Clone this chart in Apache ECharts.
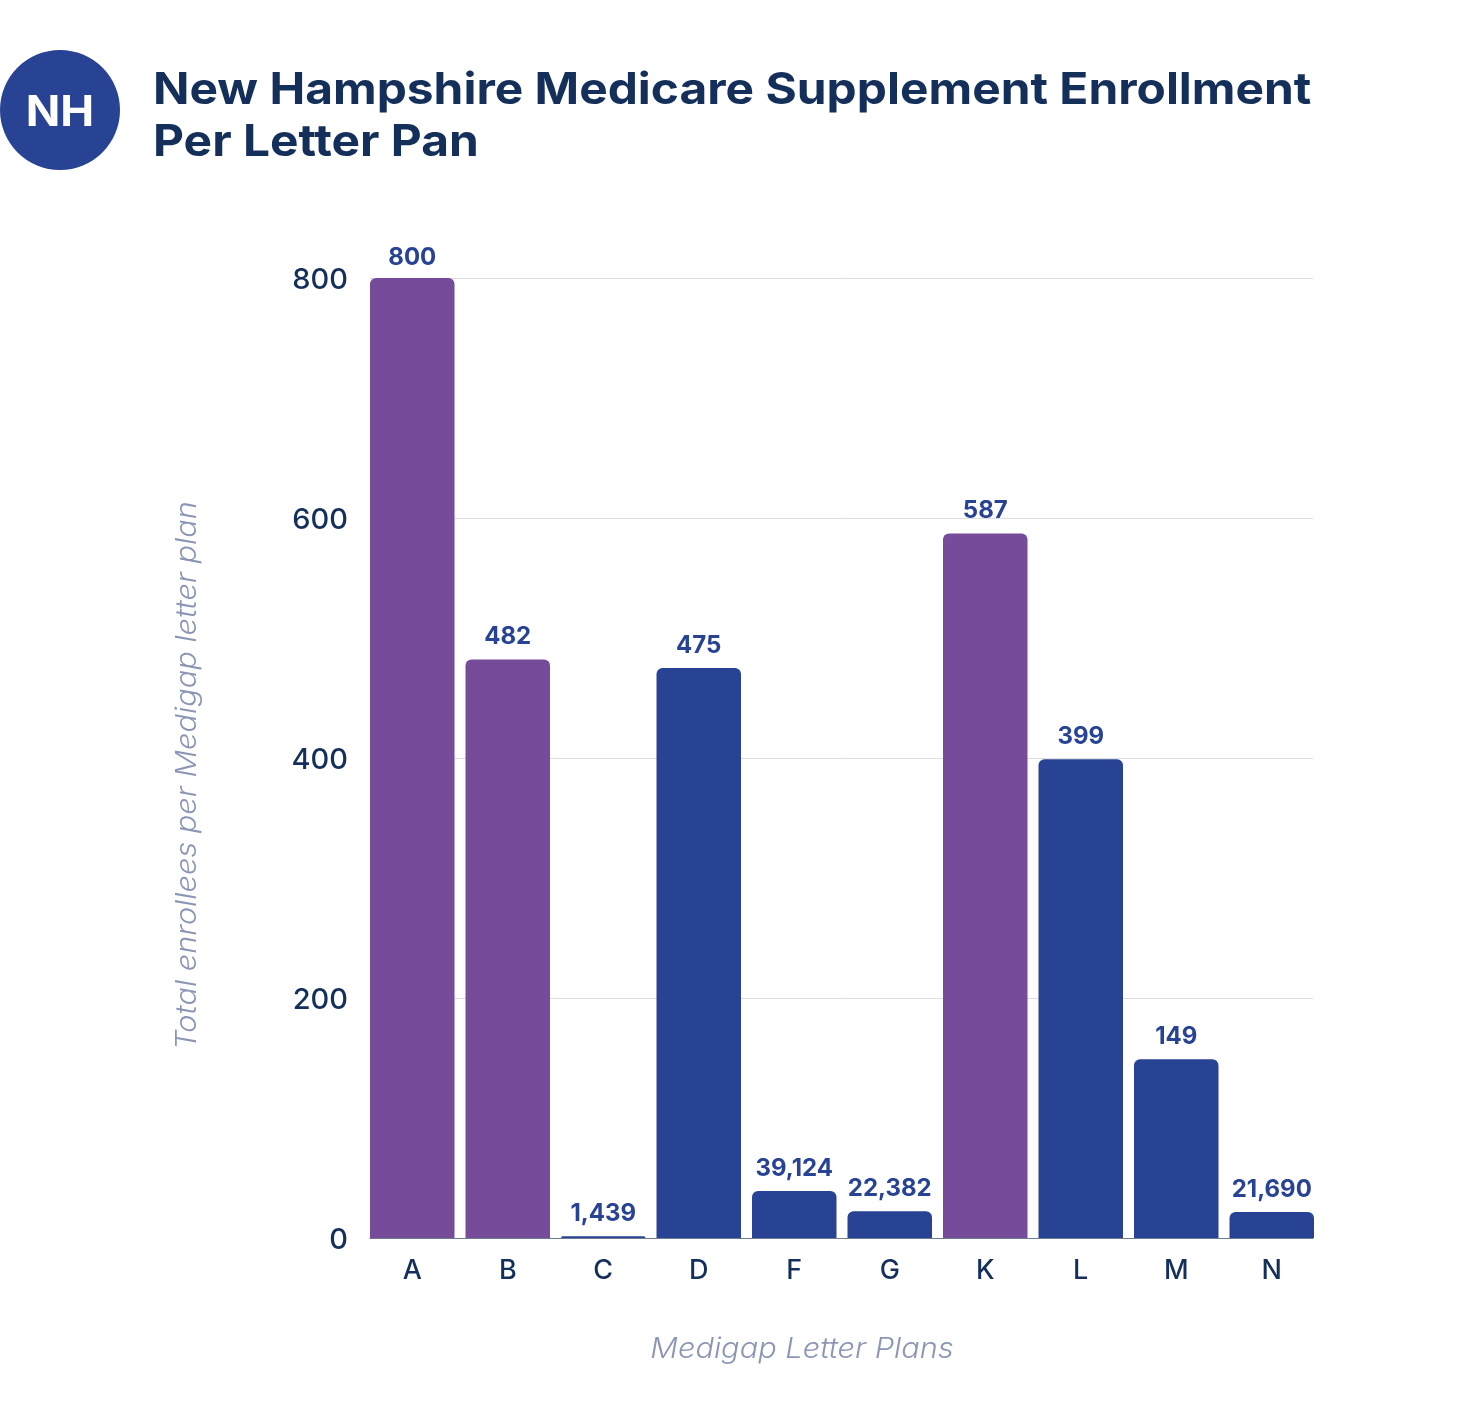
<!DOCTYPE html>
<html>
<head>
<meta charset="utf-8">
<title>New Hampshire Medicare Supplement Enrollment</title>
<script src="https://cdn.jsdelivr.net/npm/echarts@6/dist/echarts.min.js"></script>
<style>
html, body { margin: 0; padding: 0; background: #fff; }
#container { width: 1472px; height: 1416px; }
</style>
</head>
<body>
<div id="container"></div>
<script>
var categories = ['A', 'B', 'C', 'D', 'F', 'G', 'K', 'L', 'M', 'N'];
// bar heights as drawn (the small plans are drawn in thousands)
var barValues = [800, 482, 1.439, 475, 39.124, 22.382, 587, 399, 149, 21.69];
// labels as printed in the picture
var barLabels = ['800', '482', '1,439', '475', '39,124', '22,382', '587', '399', '149', '21,690'];
var purplePlans = ['A', 'B', 'K'];
var yTicks = [0, 200, 400, 600, 800];

var fontName = 'Inter';
var navy = '#14305a';
var blue = '#284393';
var purple = '#764b99';
var muted = '#8a96b4';

var barData = [];
for (var i = 0; i < categories.length; i++) {
    barData.push({
        value: barValues[i],
        itemStyle: { color: purplePlans.indexOf(categories[i]) >= 0 ? purple : blue },
        // the top bar's label sits closer to the bar than the others
        label: { distance: i == 0 ? 8.5 : 10.5 }
    });
}

var myChart = echarts.init(document.getElementById('container'));

var option = {
    animation: false,
    backgroundColor: '#fff',
    // grid 0 holds the rules and y labels, grid 1 is a bit wider so bars sit flush with the rules
    grid: [
        { left: 370, width: 943, top: 278, height: 960 },
        { left: 364.5, width: 955, top: 278, height: 960 }
    ],
    xAxis: [
        {
            type: 'value', gridIndex: 0, min: 0, max: 1,
            axisLine: { show: true, onZero: false, lineStyle: { color: '#6f7b8f', width: 1 } },
            axisTick: { show: false },
            axisLabel: { show: false },
            splitLine: { show: false }
        },
        {
            type: 'category', gridIndex: 1, data: categories,
            axisLine: { show: false },
            axisTick: { show: false },
            axisLabel: { color: navy, fontFamily: fontName, fontSize: 27, fontWeight: 500, margin: 19 }
        }
    ],
    yAxis: [
        {
            type: 'value', gridIndex: 0, min: yTicks[0], max: yTicks[yTicks.length - 1], interval: 200,
            axisLine: { show: false },
            axisTick: { show: false },
            // top align with a short line box pushes the digits just below the rule, as in the picture
            axisLabel: { color: navy, fontFamily: fontName, fontSize: 29, fontWeight: 500, margin: 22, verticalAlign: 'top', lineHeight: 4 },
            splitLine: { lineStyle: { color: '#dcdde3', width: 1 } }
        },
        {
            type: 'value', gridIndex: 1, min: 0, max: 800, show: false
        }
    ],
    series: [
        {
            type: 'bar',
            xAxisIndex: 1,
            yAxisIndex: 1,
            data: barData,
            barWidth: 84.5,
            itemStyle: { borderRadius: [6, 6, 0, 0] },
            label: {
                show: true,
                position: 'top',
                color: blue,
                fontFamily: fontName,
                fontSize: 24,
                fontWeight: 700,
                formatter: function (p) { return barLabels[p.dataIndex]; }
            }
        }
    ],
    graphic: [
        { type: 'circle', shape: { cx: 60, cy: 110, r: 60 }, style: { fill: blue } },
        {
            type: 'text', x: 60, y: 113, scaleX: 1.08,
            style: { text: 'NH', fill: '#fff', font: '700 42px ' + fontName, textAlign: 'center', textVerticalAlign: 'middle' }
        },
        {
            type: 'text', x: 153, y: 91, scaleX: 1.088,
            style: { text: 'New Hampshire Medicare Supplement Enrollment', fill: navy, font: '700 44px ' + fontName, textVerticalAlign: 'middle' }
        },
        {
            type: 'text', x: 153, y: 143, scaleX: 1.088,
            style: { text: 'Per Letter Pan', fill: navy, font: '700 44px ' + fontName, textVerticalAlign: 'middle' }
        },
        {
            type: 'text', x: 802, y: 1350, scaleX: 1.098,
            style: { text: 'Medigap Letter Plans', fill: muted, font: 'italic 300 28px ' + fontName, textAlign: 'center', textVerticalAlign: 'middle' }
        },
        {
            type: 'text', x: 188, y: 775.5, rotation: Math.PI / 2, scaleX: 1.097,
            style: { text: 'Total enrollees per Medigap letter plan', fill: muted, font: 'italic 300 28px ' + fontName, textAlign: 'center', textVerticalAlign: 'middle' }
        }
    ]
};

myChart.setOption(option);
</script>
</body>
</html>
